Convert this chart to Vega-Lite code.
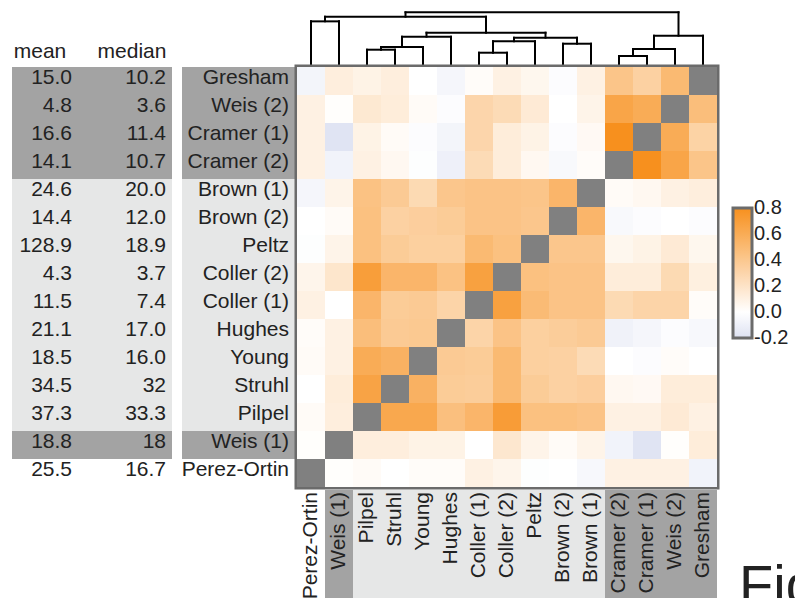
{
  "$schema": "https://vega.github.io/schema/vega-lite/v6.json",
  "padding": {"left": 12, "top": 10, "right": 0, "bottom": 0},
  "background": "white",
  "config": {
    "font": "Liberation Sans",
    "view": {"stroke": null},
    "legend": {
      "orient": "none",
      "legendX": 721,
      "legendY": 196,
      "padding": 0,
      "gradientLength": 130,
      "gradientThickness": 19,
      "gradientStrokeColor": "#6b6b6b",
      "gradientStrokeWidth": 3,
      "labelFontSize": 20,
      "labelColor": "#222",
      "labelOffset": 6,
      "labelOverlap": false
    }
  },
  "title": {
    "text": "Fig",
    "orient": "bottom",
    "anchor": "end",
    "align": "left",
    "baseline": "alphabetic",
    "fontSize": 56,
    "fontWeight": "normal",
    "color": "#222",
    "dx": -50,
    "offset": 4
  },
  "datasets": {
    "studies": [
      {"study": "Gresham", "group": "a", "mean": "15.0", "median": "10.2"},
      {"study": "Weis (2)", "group": "a", "mean": "4.8", "median": "3.6"},
      {"study": "Cramer (1)", "group": "a", "mean": "16.6", "median": "11.4"},
      {"study": "Cramer (2)", "group": "a", "mean": "14.1", "median": "10.7"},
      {"study": "Brown (1)", "group": "b", "mean": "24.6", "median": "20.0"},
      {"study": "Brown (2)", "group": "b", "mean": "14.4", "median": "12.0"},
      {"study": "Peltz", "group": "b", "mean": "128.9", "median": "18.9"},
      {"study": "Coller (2)", "group": "b", "mean": "4.3", "median": "3.7"},
      {"study": "Coller (1)", "group": "b", "mean": "11.5", "median": "7.4"},
      {"study": "Hughes", "group": "b", "mean": "21.1", "median": "17.0"},
      {"study": "Young", "group": "b", "mean": "18.5", "median": "16.0"},
      {"study": "Struhl", "group": "b", "mean": "34.5", "median": "32"},
      {"study": "Pilpel", "group": "b", "mean": "37.3", "median": "33.3"},
      {"study": "Weis (1)", "group": "a", "mean": "18.8", "median": "18"},
      {"study": "Perez-Ortin", "group": "c", "mean": "25.5", "median": "16.7"}
    ],
    "cor": [
      {"study": "Gresham", "Perez-Ortin": -0.07, "Weis (1)": 0.12, "Pilpel": 0.09, "Struhl": 0.12, "Young": 0.0, "Hughes": -0.06, "Coller (1)": 0.02, "Coller (2)": 0.1, "Peltz": 0.06, "Brown (2)": -0.02, "Brown (1)": 0.1, "Cramer (2)": 0.42, "Cramer (1)": 0.33, "Weis (2)": 0.5, "Gresham": 1},
      {"study": "Weis (2)", "Perez-Ortin": 0.1, "Weis (1)": 0.01, "Pilpel": 0.16, "Struhl": 0.13, "Young": 0.03, "Hughes": -0.02, "Coller (1)": 0.3, "Coller (2)": 0.26, "Peltz": 0.15, "Brown (2)": 0.0, "Brown (1)": 0.08, "Cramer (2)": 0.65, "Cramer (1)": 0.6, "Weis (2)": 1, "Gresham": 0.47},
      {"study": "Cramer (1)", "Perez-Ortin": 0.1, "Weis (1)": -0.18, "Pilpel": 0.09, "Struhl": 0.03, "Young": -0.02, "Hughes": -0.07, "Coller (1)": 0.3, "Coller (2)": 0.13, "Peltz": 0.09, "Brown (2)": -0.02, "Brown (1)": 0.04, "Cramer (2)": 0.8, "Cramer (1)": 1, "Weis (2)": 0.6, "Gresham": 0.32},
      {"study": "Cramer (2)", "Perez-Ortin": 0.1, "Weis (1)": -0.08, "Pilpel": 0.1, "Struhl": 0.05, "Young": -0.01, "Hughes": -0.1, "Coller (1)": 0.26, "Coller (2)": 0.13, "Peltz": 0.05, "Brown (2)": -0.04, "Brown (1)": 0.02, "Cramer (2)": 1, "Cramer (1)": 0.8, "Weis (2)": 0.65, "Gresham": 0.42},
      {"study": "Brown (1)", "Perez-Ortin": -0.06, "Weis (1)": 0.08, "Pilpel": 0.44, "Struhl": 0.38, "Young": 0.27, "Hughes": 0.41, "Coller (1)": 0.43, "Coller (2)": 0.43, "Peltz": 0.42, "Brown (2)": 0.53, "Brown (1)": 1, "Cramer (2)": 0.03, "Cramer (1)": 0.05, "Weis (2)": 0.1, "Gresham": 0.12},
      {"study": "Brown (2)", "Perez-Ortin": 0.0, "Weis (1)": 0.03, "Pilpel": 0.45, "Struhl": 0.33, "Young": 0.35, "Hughes": 0.37, "Coller (1)": 0.43, "Coller (2)": 0.43, "Peltz": 0.41, "Brown (2)": 1, "Brown (1)": 0.53, "Cramer (2)": -0.04, "Cramer (1)": -0.02, "Weis (2)": 0.0, "Gresham": -0.02},
      {"study": "Peltz", "Perez-Ortin": -0.01, "Weis (1)": 0.08, "Pilpel": 0.45, "Struhl": 0.37, "Young": 0.34, "Hughes": 0.34, "Coller (1)": 0.5, "Coller (2)": 0.45, "Peltz": 1, "Brown (2)": 0.41, "Brown (1)": 0.41, "Cramer (2)": 0.06, "Cramer (1)": 0.09, "Weis (2)": 0.15, "Gresham": 0.06},
      {"study": "Coller (2)", "Perez-Ortin": 0.07, "Weis (1)": 0.18, "Pilpel": 0.7, "Struhl": 0.53, "Young": 0.53, "Hughes": 0.44, "Coller (1)": 0.68, "Coller (2)": 1, "Peltz": 0.45, "Brown (2)": 0.43, "Brown (1)": 0.43, "Cramer (2)": 0.13, "Cramer (1)": 0.13, "Weis (2)": 0.27, "Gresham": 0.11},
      {"study": "Coller (1)", "Perez-Ortin": 0.1, "Weis (1)": 0.0, "Pilpel": 0.53, "Struhl": 0.37, "Young": 0.38, "Hughes": 0.31, "Coller (1)": 1, "Coller (2)": 0.68, "Peltz": 0.49, "Brown (2)": 0.43, "Brown (1)": 0.43, "Cramer (2)": 0.27, "Cramer (1)": 0.31, "Weis (2)": 0.31, "Gresham": 0.02},
      {"study": "Hughes", "Perez-Ortin": 0.02, "Weis (1)": 0.1, "Pilpel": 0.47, "Struhl": 0.38, "Young": 0.39, "Hughes": 1, "Coller (1)": 0.31, "Coller (2)": 0.43, "Peltz": 0.34, "Brown (2)": 0.36, "Brown (1)": 0.38, "Cramer (2)": -0.09, "Cramer (1)": -0.06, "Weis (2)": -0.02, "Gresham": -0.05},
      {"study": "Young", "Perez-Ortin": 0.03, "Weis (1)": 0.1, "Pilpel": 0.6, "Struhl": 0.56, "Young": 1, "Hughes": 0.38, "Coller (1)": 0.37, "Coller (2)": 0.5, "Peltz": 0.34, "Brown (2)": 0.33, "Brown (1)": 0.26, "Cramer (2)": 0.0, "Cramer (1)": -0.02, "Weis (2)": 0.02, "Gresham": 0.0},
      {"study": "Struhl", "Perez-Ortin": 0.0, "Weis (1)": 0.13, "Pilpel": 0.66, "Struhl": 1, "Young": 0.56, "Hughes": 0.37, "Coller (1)": 0.36, "Coller (2)": 0.5, "Peltz": 0.37, "Brown (2)": 0.33, "Brown (1)": 0.35, "Cramer (2)": 0.05, "Cramer (1)": 0.04, "Weis (2)": 0.13, "Gresham": 0.13},
      {"study": "Pilpel", "Perez-Ortin": 0.03, "Weis (1)": 0.12, "Pilpel": 1, "Struhl": 0.63, "Young": 0.63, "Hughes": 0.46, "Coller (1)": 0.53, "Coller (2)": 0.71, "Peltz": 0.45, "Brown (2)": 0.45, "Brown (1)": 0.43, "Cramer (2)": 0.1, "Cramer (1)": 0.1, "Weis (2)": 0.15, "Gresham": 0.1},
      {"study": "Weis (1)", "Perez-Ortin": 0.01, "Weis (1)": 1, "Pilpel": 0.12, "Struhl": 0.12, "Young": 0.09, "Hughes": 0.09, "Coller (1)": 0.0, "Coller (2)": 0.17, "Peltz": 0.08, "Brown (2)": 0.03, "Brown (1)": 0.08, "Cramer (2)": -0.08, "Cramer (1)": -0.18, "Weis (2)": 0.01, "Gresham": 0.13},
      {"study": "Perez-Ortin", "Perez-Ortin": 1, "Weis (1)": 0.01, "Pilpel": 0.03, "Struhl": 0.0, "Young": 0.02, "Hughes": 0.02, "Coller (1)": 0.1, "Coller (2)": 0.07, "Peltz": -0.01, "Brown (2)": 0.0, "Brown (1)": -0.05, "Cramer (2)": 0.1, "Cramer (1)": 0.1, "Weis (2)": 0.1, "Gresham": -0.08}
    ],
    "tree": [
      {"node": "n1", "x1": 0, "h1": 0, "x2": 1, "h2": 0, "h": 0.82},
      {"node": "n2", "x1": 2, "h1": 0, "x2": 3, "h2": 0, "h": 0.275},
      {"node": "n3", "x1": 2.5, "h1": 0.275, "x2": 4, "h2": 0, "h": 0.327},
      {"node": "n4", "x1": 3.25, "h1": 0.327, "x2": 5, "h2": 0, "h": 0.525},
      {"node": "n5", "x1": 6, "h1": 0, "x2": 7, "h2": 0, "h": 0.217},
      {"node": "n6", "x1": 6.5, "h1": 0.217, "x2": 8, "h2": 0, "h": 0.437},
      {"node": "n7", "x1": 9, "h1": 0, "x2": 10, "h2": 0, "h": 0.39},
      {"node": "n8", "x1": 7.25, "h1": 0.437, "x2": 9.5, "h2": 0.39, "h": 0.506},
      {"node": "n9", "x1": 4.125, "h1": 0.525, "x2": 8.375, "h2": 0.506, "h": 0.602},
      {"node": "n10", "x1": 0.5, "h1": 0.82, "x2": 6.25, "h2": 0.602, "h": 0.91},
      {"node": "n11", "x1": 11, "h1": 0, "x2": 12, "h2": 0, "h": 0.154},
      {"node": "n12", "x1": 11.5, "h1": 0.154, "x2": 13, "h2": 0, "h": 0.288},
      {"node": "n13", "x1": 12.25, "h1": 0.288, "x2": 14, "h2": 0, "h": 0.544},
      {"node": "n14", "x1": 3.375, "h1": 0.91, "x2": 13.125, "h2": 0.544, "h": 0.994}
    ]
  },
  "columns": 3,
  "align": "each",
  "bounds": "flush",
  "spacing": {"row": 3, "column": 1},
  "concat": [
    {"width": 1, "height": 1, "data": {"values": []}, "mark": "text", "encoding": {}},
    {"width": 1, "height": 1, "data": {"values": []}, "mark": "text", "encoding": {}},
    {
      "width": 420,
      "height": 52,
      "data": {"name": "tree"},
      "layer": [
        {
          "mark": {"type": "rule", "strokeWidth": 2, "color": "#000", "strokeCap": "square"},
          "encoding": {
            "x": {"field": "x1", "type": "quantitative", "scale": {"domain": [-0.5, 14.5], "nice": false, "zero": false}, "axis": null},
            "x2": {"field": "x2"},
            "y": {"field": "h", "type": "quantitative", "scale": {"domain": [0, 1], "nice": false}, "axis": null}
          }
        },
        {
          "mark": {"type": "rule", "strokeWidth": 2, "color": "#000", "strokeCap": "square"},
          "encoding": {
            "x": {"field": "x1", "type": "quantitative", "axis": null},
            "y": {"field": "h1", "type": "quantitative", "axis": null},
            "y2": {"field": "h"}
          }
        },
        {
          "mark": {"type": "rule", "strokeWidth": 2, "color": "#000", "strokeCap": "square"},
          "encoding": {
            "x": {"field": "x2", "type": "quantitative", "axis": null},
            "y": {"field": "h2", "type": "quantitative", "axis": null},
            "y2": {"field": "h"}
          }
        }
      ]
    },
    {
      "width": 169,
      "height": 420,
      "data": {"name": "studies"},
      "transform": [{"fold": ["mean", "median"], "as": ["stat", "value"]}],
      "encoding": {
        "y": {
          "field": "study", "type": "nominal", "axis": null,
          "sort": ["Gresham", "Weis (2)", "Cramer (1)", "Cramer (2)", "Brown (1)", "Brown (2)", "Peltz", "Coller (2)", "Coller (1)", "Hughes", "Young", "Struhl", "Pilpel", "Weis (1)", "Perez-Ortin"],
          "scale": {"paddingInner": 0, "paddingOuter": 0}
        },
        "x": {
          "field": "stat", "type": "nominal", "sort": ["mean", "median"],
          "scale": {"paddingInner": 0, "paddingOuter": 0.05625, "align": 0},
          "axis": {
            "orient": "top", "title": null, "domain": false, "ticks": false,
            "labelAngle": 0, "labelFontSize": 21, "labelColor": "#222", "labelPadding": 6,
            "labelOffset": {"condition": {"test": "datum.value === 'mean'", "value": -12}, "value": 0}
          }
        }
      },
      "layer": [
        {
          "mark": {"type": "rect"},
          "encoding": {
            "fill": {"field": "group", "type": "nominal", "legend": null,
              "scale": {"domain": ["a", "b", "c"], "range": ["#a3a3a3", "#e6e7e7", "#ffffff"]}}
          }
        },
        {
          "transform": [{"filter": "datum.stat === 'mean'"}],
          "mark": {"type": "text", "align": "right", "baseline": "middle", "dx": -20, "dy": -3, "fontSize": 21, "color": "#222"},
          "encoding": {
            "x": {"field": "stat", "type": "nominal", "sort": ["mean", "median"], "bandPosition": 1,
              "axis": {
                "orient": "top", "title": null, "domain": false, "ticks": false,
                "labelAngle": 0, "labelFontSize": 21, "labelColor": "#222", "labelPadding": 6,
                "labelOffset": {"condition": {"test": "datum.value === 'mean'", "value": -12}, "value": 0}
              }},
            "text": {"field": "value"}
          }
        },
        {
          "transform": [{"filter": "datum.stat === 'median'"}],
          "mark": {"type": "text", "align": "right", "baseline": "middle", "dx": -6, "dy": -3, "fontSize": 21, "color": "#222"},
          "encoding": {
            "x": {"field": "stat", "type": "nominal", "sort": ["mean", "median"], "bandPosition": 1,
              "axis": {
                "orient": "top", "title": null, "domain": false, "ticks": false,
                "labelAngle": 0, "labelFontSize": 21, "labelColor": "#222", "labelPadding": 6,
                "labelOffset": {"condition": {"test": "datum.value === 'mean'", "value": -12}, "value": 0}
              }},
            "text": {"field": "value"}
          }
        }
      ]
    },
    {
      "width": 114,
      "height": 420,
      "data": {"name": "studies"},
      "encoding": {
        "y": {
          "field": "study", "type": "nominal", "axis": null,
          "sort": ["Gresham", "Weis (2)", "Cramer (1)", "Cramer (2)", "Brown (1)", "Brown (2)", "Peltz", "Coller (2)", "Coller (1)", "Hughes", "Young", "Struhl", "Pilpel", "Weis (1)", "Perez-Ortin"],
          "scale": {"paddingInner": 0, "paddingOuter": 0}
        }
      },
      "layer": [
        {
          "mark": {"type": "rect"},
          "encoding": {
            "fill": {"field": "group", "type": "nominal", "legend": null,
              "scale": {"domain": ["a", "b", "c"], "range": ["#a3a3a3", "#e6e7e7", "#ffffff"]}}
          }
        },
        {
          "mark": {"type": "text", "align": "right", "baseline": "middle", "dx": 50, "dy": -3, "fontSize": 21, "color": "#222"},
          "encoding": {"text": {"field": "study"}}
        }
      ]
    },
    {
      "width": 420,
      "height": 420,
      "data": {"name": "cor"},
      "transform": [{"fold": ["Perez-Ortin", "Weis (1)", "Pilpel", "Struhl", "Young", "Hughes", "Coller (1)", "Coller (2)", "Peltz", "Brown (2)", "Brown (1)", "Cramer (2)", "Cramer (1)", "Weis (2)", "Gresham"], "as": ["other", "r"]}],
      "view": {"stroke": "#6b6b6b", "strokeWidth": 5},
      "encoding": {
        "x": {
          "field": "other", "type": "nominal", "axis": null,
          "sort": ["Perez-Ortin", "Weis (1)", "Pilpel", "Struhl", "Young", "Hughes", "Coller (1)", "Coller (2)", "Peltz", "Brown (2)", "Brown (1)", "Cramer (2)", "Cramer (1)", "Weis (2)", "Gresham"],
          "scale": {"paddingInner": 0, "paddingOuter": 0}
        },
        "y": {
          "field": "study", "type": "nominal", "axis": null,
          "sort": ["Gresham", "Weis (2)", "Cramer (1)", "Cramer (2)", "Brown (1)", "Brown (2)", "Peltz", "Coller (2)", "Coller (1)", "Hughes", "Young", "Struhl", "Pilpel", "Weis (1)", "Perez-Ortin"],
          "scale": {"paddingInner": 0, "paddingOuter": 0}
        }
      },
      "layer": [
        {
          "transform": [{"filter": "datum.study !== datum.other"}],
          "mark": {"type": "rect"},
          "encoding": {
            "color": {
              "field": "r", "type": "quantitative",
              "scale": {"domain": [-0.2001, 0, 0.8001], "range": ["#dde1f2", "#ffffff", "#f7901e"], "interpolate": "rgb", "clamp": true},
              "legend": {
                "title": null,
                "values": [-0.2, 0, 0.2, 0.4, 0.6, 0.8],
                "labelBaseline": "middle",
                "labelExpr": "datum.value < 0 ? '-' + format(-datum.value, '.1f') : format(datum.value, '.1f')"
              }
            }
          }
        },
        {
          "transform": [{"filter": "datum.study === datum.other"}],
          "mark": {"type": "rect", "color": "#808080"}
        }
      ]
    },
    {"width": 1, "height": 1, "data": {"values": []}, "mark": "text", "encoding": {}},
    {"width": 1, "height": 1, "data": {"values": []}, "mark": "text", "encoding": {}},
    {
      "width": 420,
      "height": 110,
      "data": {"name": "studies"},
      "encoding": {
        "x": {
          "field": "study", "type": "nominal", "axis": null,
          "sort": ["Perez-Ortin", "Weis (1)", "Pilpel", "Struhl", "Young", "Hughes", "Coller (1)", "Coller (2)", "Peltz", "Brown (2)", "Brown (1)", "Cramer (2)", "Cramer (1)", "Weis (2)", "Gresham"],
          "scale": {"paddingInner": 0, "paddingOuter": 0}
        }
      },
      "layer": [
        {
          "mark": {"type": "rect"},
          "encoding": {
            "fill": {"field": "group", "type": "nominal", "legend": null,
              "scale": {"domain": ["a", "b", "c"], "range": ["#a3a3a3", "#e6e7e7", "#ffffff"]}}
          }
        },
        {
          "mark": {"type": "text", "angle": 270, "align": "right", "baseline": "middle", "dx": 53, "fontSize": 21, "color": "#222"},
          "encoding": {"text": {"field": "study"}}
        }
      ]
    }
  ]
}
